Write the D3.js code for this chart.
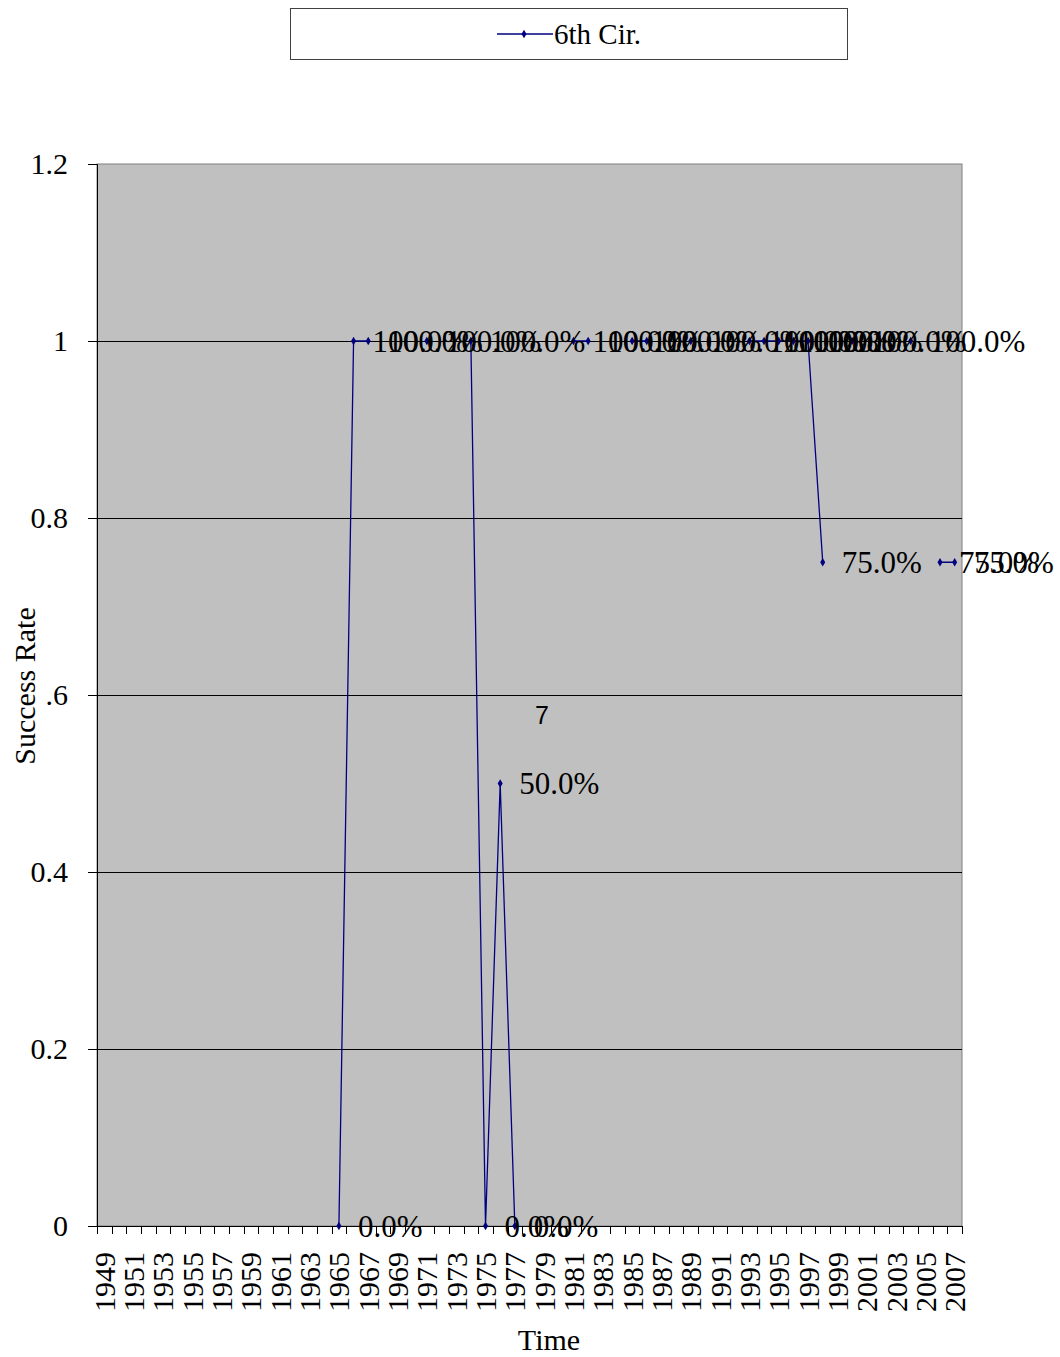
<!DOCTYPE html>
<html>
<head>
<meta charset="utf-8">
<script src="https://cdn.jsdelivr.net/npm/d3@7"></script>
<style>
  body { margin: 0; background: #fff; }
  text { font-family: "Liberation Serif", "Times New Roman", serif; }
</style>
</head>
<body>
<div id="chart"></div>
<script>
// years on the category axis
var years = d3.range(1949, 2008);

// success rate per year (null = no data)
var rateYears = [1965, 1966, 1967, 1971, 1974, 1975, 1976, 1977, 1981, 1982, 1985, 1986,
                 1989, 1993, 1994, 1995, 1996, 1997, 1998, 2000, 2004, 2006, 2007];
var rateValues = [0, 1, 1, 1, 1, 0, 0.5, 0, 1, 1, 1, 1,
                  1, 1, 1, 1, 1, 1, 0.75, 1, 1, 0.75, 0.75];

var yTicks = [0, 0.2, 0.4, 0.6, 0.8, 1, 1.2];
var yTickLabels = ["0", "0.2", "0.4", ".6", "0.8", "1", "1.2"];

var seriesName = "6th Cir.";

window.onload = function() {
  var data = years.map(function(y) {
    var i = rateYears.indexOf(y);
    return { year: y, value: i >= 0 ? rateValues[i] : null };
  });
  lineChart(data);
};

function lineChart(data) {
  var w = 1060;
  var h = 1357;
  var margin = { top: 164, right: 98, bottom: 131, left: 97 };
  var innerWidth = w - margin.left - margin.right;
  var innerHeight = h - margin.top - margin.bottom;
  var navy = "#000080";

  var svg = d3.select("#chart")
    .append("svg")
    .attr("width", w)
    .attr("height", h);

  var xScale = d3.scaleBand()
    .domain(years)
    .range([0, innerWidth])
    .padding(0);

  var yScale = d3.scaleLinear()
    .domain([0, 1.2])
    .range([innerHeight, 0]);

  var g = svg.append("g")
    .attr("transform", "translate(" + margin.left + "," + margin.top + ")");

  // plot background
  g.append("rect")
    .attr("x", 0)
    .attr("y", 0)
    .attr("width", innerWidth)
    .attr("height", innerHeight)
    .attr("fill", "#c0c0c0")
    .attr("stroke", "#808080")
    .attr("stroke-width", 1);

  // gridlines
  g.selectAll(".grid")
    .data(yTicks.filter(d => d > 0 && d < 1.2))
    .enter()
    .append("line")
    .attr("class", "grid")
    .attr("x1", 0)
    .attr("x2", innerWidth)
    .attr("y1", d => Math.round(yScale(d)) + 0.5)
    .attr("y2", d => Math.round(yScale(d)) + 0.5)
    .attr("stroke", "#000")
    .attr("stroke-width", 1);

  // y axis
  var yAxis = d3.axisLeft(yScale)
    .tickValues(yTicks)
    .tickSize(9)
    .tickPadding(20)
    .tickFormat((d, i) => yTickLabels[i]);

  var yG = g.append("g")
    .attr("class", "y-axis")
    .call(yAxis);
  yG.select(".domain").attr("stroke", "#000");
  yG.selectAll("text")
    .attr("font-size", "30px")
    .attr("font-family", "Liberation Serif, Times New Roman, serif")
    .attr("fill", "#000");

  // x axis line and category boundary ticks
  var xG = g.append("g")
    .attr("class", "x-axis")
    .attr("transform", "translate(0," + innerHeight + ")");

  xG.append("line")
    .attr("x1", 0)
    .attr("x2", innerWidth)
    .attr("y1", 0.5)
    .attr("y2", 0.5)
    .attr("stroke", "#000");

  var bounds = years.map(d => xScale(d)).concat([xScale(years[years.length - 1]) + xScale.bandwidth()]);
  xG.selectAll(".xtick")
    .data(bounds)
    .enter()
    .append("line")
    .attr("class", "xtick")
    .attr("x1", d => Math.round(d) + 0.5)
    .attr("x2", d => Math.round(d) + 0.5)
    .attr("y1", 0)
    .attr("y2", 8)
    .attr("stroke", "#000");

  xG.selectAll(".xlabel")
    .data(years.filter((d, i) => i % 2 === 0))
    .enter()
    .append("text")
    .attr("class", "xlabel")
    .attr("transform", d => "translate(" + (xScale(d) + xScale.bandwidth() / 2) + ",26) rotate(-90)")
    .attr("text-anchor", "end")
    .attr("dy", "0.35em")
    .attr("font-size", "30px")
    .text(d => d);

  // axis titles
  svg.append("text")
    .attr("x", 549)
    .attr("y", 1350)
    .attr("text-anchor", "middle")
    .attr("font-size", "30px")
    .text("Time");

  svg.append("text")
    .attr("transform", "translate(35,686) rotate(-90)")
    .attr("text-anchor", "middle")
    .attr("font-size", "30px")
    .text("Success Rate");

  // series line
  var line = d3.line()
    .defined(d => d.value !== null)
    .x(d => xScale(d.year) + xScale.bandwidth() / 2)
    .y(d => yScale(d.value));

  g.append("path")
    .datum(data)
    .attr("fill", "none")
    .attr("stroke", navy)
    .attr("stroke-width", 1.3)
    .attr("d", line);

  var points = data.filter(d => d.value !== null);

  g.selectAll(".marker")
    .data(points)
    .enter()
    .append("path")
    .attr("class", "marker")
    .attr("transform", d => "translate(" + (xScale(d.year) + xScale.bandwidth() / 2) + "," + yScale(d.value) + ")")
    .attr("d", d3.symbol().type(d3.symbolDiamond).size(22))
    .attr("fill", navy);

  // data labels
  var fmt = d3.format(".1%");
  g.selectAll(".dlabel")
    .data(points)
    .enter()
    .append("text")
    .attr("class", "dlabel")
    .attr("x", d => xScale(d.year) + xScale.bandwidth() / 2 + 19)
    .attr("y", d => yScale(d.value))
    .attr("dy", "0.35em")
    .attr("font-size", "31px")
    .attr("fill", "#000")
    .text(d => fmt(d.value));

  // stray label
  svg.append("text")
    .attr("x", 542)
    .attr("y", 724)
    .attr("text-anchor", "middle")
    .attr("font-family", "Liberation Sans, Arial, sans-serif")
    .style("font-family", "Liberation Sans, Arial, sans-serif")
    .attr("font-size", "25px")
    .text("7");

  // legend
  var legend = svg.append("g").attr("class", "legend");
  legend.append("rect")
    .attr("x", 290.5)
    .attr("y", 8.5)
    .attr("width", 557)
    .attr("height", 51)
    .attr("fill", "#fff")
    .attr("stroke", "#404040");
  legend.append("line")
    .attr("x1", 497)
    .attr("x2", 553)
    .attr("y1", 34)
    .attr("y2", 34)
    .attr("stroke", navy)
    .attr("stroke-width", 1.3);
  legend.append("path")
    .attr("transform", "translate(524,34)")
    .attr("d", d3.symbol().type(d3.symbolDiamond).size(22))
    .attr("fill", navy);
  legend.append("text")
    .attr("x", 554)
    .attr("y", 34)
    .attr("dy", "0.35em")
    .attr("font-size", "29px")
    .text(seriesName);
}
</script>
</body>
</html>
